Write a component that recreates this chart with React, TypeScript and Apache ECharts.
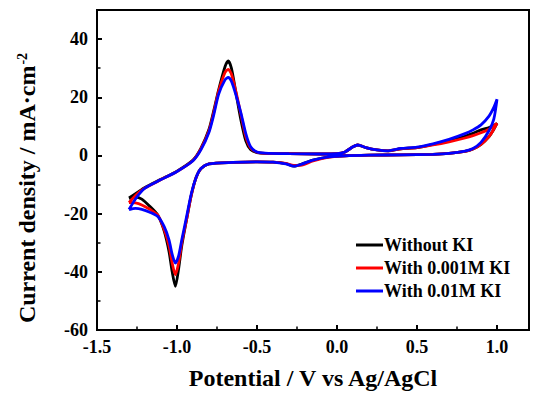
import React, { useEffect, useRef } from "react";
import * as echarts from "echarts";

// Potential (V vs Ag/AgCl): forward (anodic) sweep then reverse (cathodic) sweep
const potentialForward = [
  -1.3, -1.25, -1.2, -1.1, -1.0, -0.9, -0.85, -0.8, -0.77, -0.74, -0.7, -0.68, -0.66, -0.63, -0.6, -0.57,
  -0.54, -0.5, -0.45, -0.3, -0.1, 0.0, 0.05, 0.1, 0.13, 0.18, 0.25, 0.32, 0.4, 0.5, 0.6, 0.7, 0.8, 0.85,
  0.9, 0.95, 0.98, 1.0,
];
const potentialReverse = [
  0.98, 0.95, 0.9, 0.85, 0.8, 0.7, 0.6, 0.4, 0.2, 0.05, -0.05, -0.15, -0.22, -0.27, -0.32, -0.4, -0.5,
  -0.65, -0.8, -0.85, -0.88, -0.91, -0.94, -0.97, -0.99, -1.01, -1.03, -1.05, -1.08, -1.12, -1.17, -1.22,
  -1.26, -1.3,
];

// Current density (mA·cm-2)
const withoutKIForward = [
  -14.6, -12.8, -11, -8.2, -5.4, -1.6, 2.5, 9, 15.5, 22.5, 30.5, 32.5, 30, 21, 12, 5, 2, 1.0, 0.7, 0.6,
  0.5, 0.6, 1.2, 3.0, 3.6, 2.7, 1.9, 1.6, 2.3, 2.7, 3.8, 5.0, 6.6, 7.6, 8.8, 9.6, 10.3, 11,
];
const withoutKIReverse = [
  9.0, 6.5, 3.8, 2.2, 1.4, 0.7, 0.4, 0.2, 0.1, -0.1, -0.5, -1.6, -3.0, -3.7, -2.8, -2.3, -2.2, -2.4, -2.9,
  -4.5, -7.5, -13.5, -22, -31, -39, -45, -40, -33, -26, -20.5, -17.5, -15, -14.3, -14.8,
];

const with0001MForward = [
  -16.2, -13.3, -11.2, -8.3, -5.5, -1.7, 2.3, 8.5, 14.8, 22, 28.5, 29.6, 28, 21.5, 14, 6.5, 2.6, 1.1, 0.7,
  0.6, 0.5, 0.6, 1.2, 3.0, 3.6, 2.7, 1.9, 1.6, 2.3, 2.7, 3.6, 4.7, 6.0, 6.8, 7.8, 9.0, 10.2, 11,
];
const with0001MReverse = [
  9.0, 6.5, 3.8, 2.2, 1.4, 0.7, 0.4, 0.2, 0.1, -0.1, -0.6, -1.9, -3.3, -3.4, -2.7, -2.3, -2.2, -2.4, -2.9,
  -4.5, -7.5, -13.5, -22, -30, -37, -41, -37, -31, -25.5, -20.5, -18.5, -17, -16.3, -16.2,
];

const with001MForward = [
  -18.6, -14.2, -11.2, -8.3, -5.5, -1.8, 2.0, 8, 14, 21, 26, 26.8, 25.5, 20.5, 14.5, 7.5, 3.0, 1.2, 0.8,
  0.6, 0.5, 0.6, 1.2, 3.0, 3.6, 2.7, 1.9, 1.6, 2.4, 2.9, 4.0, 5.5, 7.5, 8.8, 10.5, 13.5, 16.5, 19.3,
];
const with001MReverse = [
  12.5, 8.5, 4.5, 2.4, 1.5, 0.7, 0.4, 0.2, 0.1, -0.1, -0.5, -1.6, -3.0, -3.7, -2.9, -2.3, -2.2, -2.4, -2.9,
  -4.5, -7.5, -13, -21, -29, -34.5, -37, -34, -29, -24.5, -21, -19.5, -18.5, -18.2, -18.6,
];

const seriesNames = ["Without KI", "With 0.001M KI", "With 0.01M KI"];
const seriesColors = ["#000000", "#ff0000", "#0000ff"];

const xTitle = "Potential / V vs Ag/AgCl";
const yTitle = "Current density / mA·cm";
const yTitleSup = "-2";

const potentials = [...potentialForward, ...potentialReverse];
const currents = [
  [...withoutKIForward, ...withoutKIReverse],
  [...with0001MForward, ...with0001MReverse],
  [...with001MForward, ...with001MReverse],
];

const FONT = "serif";

export default function App() {
  const ref = useRef<HTMLDivElement>(null);

  useEffect(() => {
    if (!ref.current) return;
    const chart = echarts.init(ref.current, null, { renderer: "svg" });
    const labelStyle = { color: "#000", fontFamily: FONT, fontWeight: "bold" as const, fontSize: 18 };

    chart.setOption({
      animation: false,
      backgroundColor: "#fff",
      grid: {
        left: 97,
        top: 10,
        right: 8,
        bottom: 66,
        show: true,
        borderColor: "#000",
        borderWidth: 2,
        backgroundColor: "transparent",
      },
      legend: {
        orient: "vertical",
        left: 351,
        top: 231,
        data: seriesNames,
        icon: "rect",
        itemWidth: 27,
        itemHeight: 3,
        itemGap: 5,
        textStyle: { ...labelStyle, padding: [0, 0, 0, -4] },
      },
      xAxis: [
        {
          type: "value",
          min: -1.5,
          max: 1.2,
          interval: 0.5,
          position: "bottom",
          axisLine: { show: true, onZero: false, lineStyle: { color: "#000", width: 2 } },
          axisTick: { show: true, inside: true, length: 5, lineStyle: { color: "#000", width: 2 } },
          axisLabel: {
            ...labelStyle,
            margin: 8,
            showMaxLabel: false,
            formatter: (v: number) => v.toFixed(1),
          },
          splitLine: { show: false },
          name: xTitle,
          nameLocation: "middle",
          nameGap: 36,
          nameTextStyle: { ...labelStyle, fontSize: 24 },
        },
        {
          type: "value",
          min: -1.5,
          max: 1.2,
          interval: 0.25,
          position: "bottom",
          axisLine: { show: false, onZero: false },
          axisTick: { show: true, inside: true, length: 3.5, lineStyle: { color: "#000", width: 1.5 } },
          axisLabel: { show: false },
          splitLine: { show: false },
        },
      ],
      yAxis: [
        {
          type: "value",
          min: -60,
          max: 50,
          interval: 20,
          position: "left",
          axisLine: { show: true, onZero: false, lineStyle: { color: "#000", width: 2 } },
          axisTick: { show: true, inside: true, length: 5, lineStyle: { color: "#000", width: 2 } },
          axisLabel: { ...labelStyle, margin: 9, showMaxLabel: false },
          splitLine: { show: false },
        },
        {
          type: "value",
          min: -60,
          max: 50,
          interval: 10,
          position: "left",
          axisLine: { show: false, onZero: false },
          axisTick: { show: true, inside: true, length: 3.5, lineStyle: { color: "#000", width: 1.5 } },
          axisLabel: { show: false },
          splitLine: { show: false },
        },
      ],
      graphic: [
        {
          type: "text",
          x: 27,
          y: 188,
          rotation: Math.PI / 2,
          style: {
            text: `{t|${yTitle}}{s|${yTitleSup}}`,
            align: "center",
            verticalAlign: "middle",
            rich: {
              t: { fontFamily: FONT, fontWeight: "bold", fontSize: 24, fill: "#000" },
              s: { fontFamily: FONT, fontWeight: "bold", fontSize: 14, fill: "#000", verticalAlign: "top", padding: [0, 0, 10, 1] },
            },
          },
        },
      ],
      series: seriesNames.map((name, i) => ({
        name,
        type: "line",
        xAxisIndex: 0,
        yAxisIndex: 0,
        data: potentials.map((p, k) => [p, currents[i][k]]),
        showSymbol: false,
        symbol: "none",
        smooth: 0.25,
        lineStyle: { color: seriesColors[i], width: 2.8 },
        itemStyle: { color: seriesColors[i] },
        z: 2 + i,
      })),
    });

    return () => chart.dispose();
  }, []);

  return (
    <div
      ref={ref}
      style={{ position: "fixed", left: 0, top: 0, width: 537, height: 396 }}
    />
  );
}
